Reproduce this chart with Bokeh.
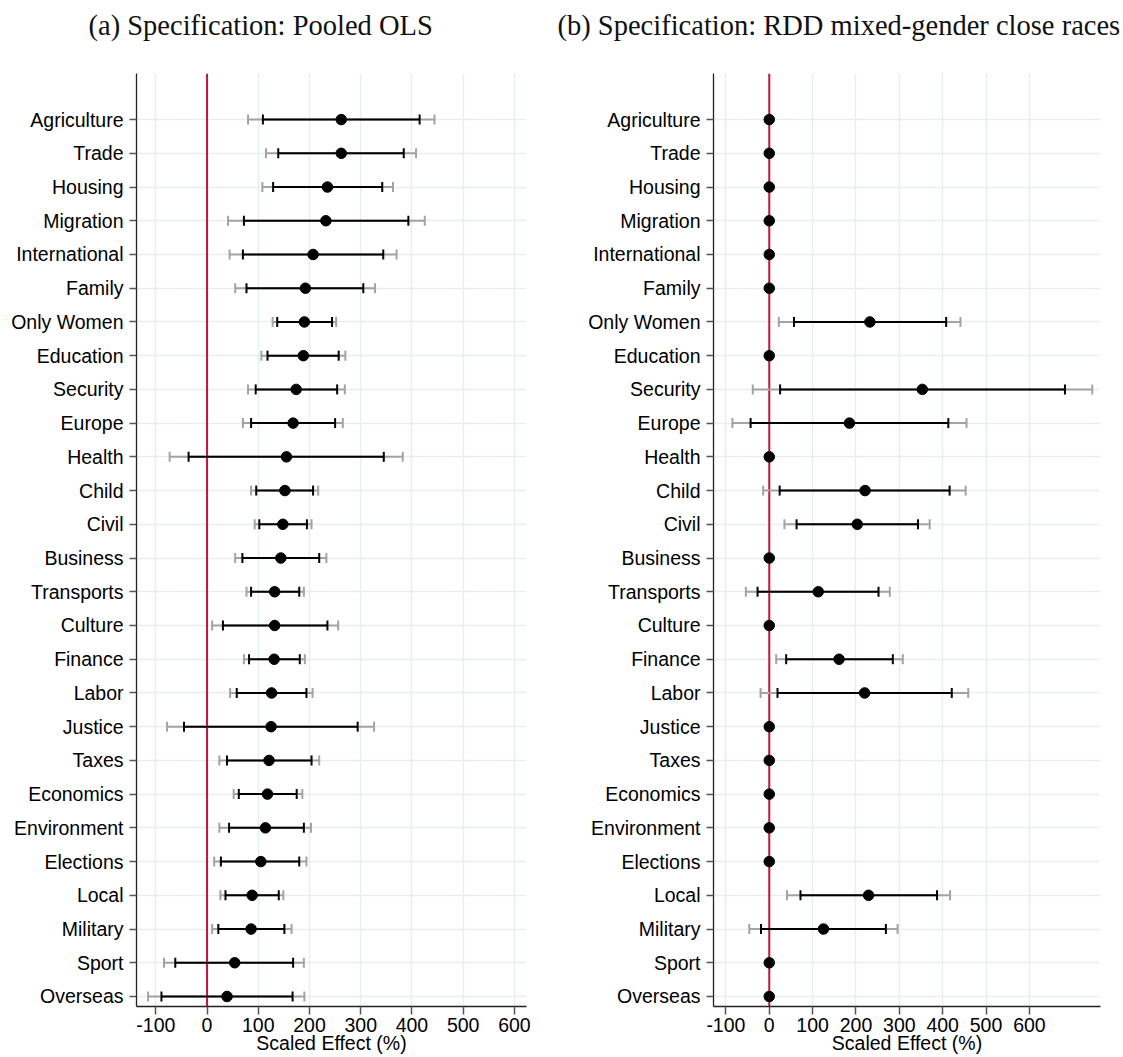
import numpy as np
from bokeh.plotting import figure
from bokeh.layouts import row
from bokeh.models import FixedTicker, ColumnDataSource, Span, Title
from bokeh.embed import file_html
from bokeh.resources import INLINE

# ---------------- data (top to bottom) ----------------
categories = ["Agriculture", "Trade", "Housing", "Migration", "International", "Family",
              "Only Women", "Education", "Security", "Europe", "Health", "Child", "Civil",
              "Business", "Transports", "Culture", "Finance", "Labor", "Justice", "Taxes",
              "Economics", "Environment", "Elections", "Local", "Military", "Sport", "Overseas"]

ols_est  = [262, 262, 235, 232, 207, 192, 190, 188, 174, 168, 155, 152, 148, 144,
            132, 132, 131, 126, 125, 121, 118, 114, 105, 88, 86, 54, 39]
ols_lo90 = [109, 139, 129, 72, 70, 77, 137, 118, 95, 86, -36, 96, 102, 69,
            86, 31, 82, 58, -45, 39, 62, 43, 27, 36, 22, -62, -89]
ols_hi90 = [415, 384, 342, 393, 344, 305, 244, 257, 254, 250, 345, 207, 195, 219,
            180, 235, 181, 194, 294, 204, 175, 189, 180, 140, 151, 168, 167]
ols_lo95 = [80, 115, 108, 41, 44, 55, 128, 106, 80, 70, -73, 86, 93, 55,
            77, 10, 72, 45, -78, 24, 52, 24, 14, 26, 10, -84, -115]
ols_hi95 = [444, 408, 363, 425, 370, 328, 252, 270, 269, 265, 382, 217, 204, 233,
            189, 256, 191, 206, 326, 219, 186, 203, 194, 149, 165, 189, 190]

rdd_est  = [0, 0, 0, 0, 0, 0, 232, 0, 353, 185, 0, 221, 203, 0,
            113, 0, 161, 220, 0, 0, 0, 0, 0, 229, 125, 0, 0]
rdd_lo90 = [None, None, None, None, None, None, 57, None, 25, -43, None, 24, 63, None,
            -27, None, 39, 19, None, None, None, None, None, 72, -19, None, None]
rdd_hi90 = [None, None, None, None, None, None, 408, None, 682, 413, None, 416, 343, None,
            252, None, 285, 421, None, None, None, None, None, 387, 269, None, None]
rdd_lo95 = [None, None, None, None, None, None, 22, None, -38, -85, None, -14, 35, None,
            -54, None, 16, -20, None, None, None, None, None, 41, -46, None, None]
rdd_hi95 = [None, None, None, None, None, None, 441, None, 745, 455, None, 453, 370, None,
            278, None, 308, 459, None, None, None, None, None, 417, 296, None, None]

x_ticks = [-100, 0, 100, 200, 300, 400, 500, 600]
x_tick_labels = ["-100", "0", "100", "200", "300", "400", "500", "600"]

title_a = "(a) Specification: Pooled OLS"
title_b = "(b) Specification: RDD mixed-gender close races"
x_label = "Scaled Effect (%)"

# ---------------- styling ----------------
SANS = "Liberation Sans"
SERIF = "Liberation Serif"
GRID = "#E6EEF1"
RED = "#C8143C"
GRAY = "#A3A3A3"
BLACK = "#000000"
FIG_H = 1057
FS = "19.5px"


def arr(v):
    return np.array([np.nan if x is None else x for x in v], dtype=float)


def panel(title_text, est, lo90, hi90, lo95, hi95, xr, width, bl, br, toff):
    n = len(categories)
    ypos = list(range(n, 0, -1))
    src = ColumnDataSource(dict(y=ypos, est=arr(est), lo90=arr(lo90), hi90=arr(hi90),
                                lo95=arr(lo95), hi95=arr(hi95)))
    p = figure(width=width, height=FIG_H, x_range=xr, y_range=(0.703, 28.366),
               output_backend="svg", toolbar_location=None, title=None,
               min_border_left=bl, min_border_right=br, min_border_top=73,
               min_border_bottom=51)
    p.outline_line_color = None
    p.background_fill_color = "white"
    p.border_fill_color = "white"

    # spacer (closest to frame) then the sub-caption title above it
    p.add_layout(Title(text=" ", text_font_size="14px", standoff=10), "above")
    p.add_layout(Title(text=title_text, align="left", offset=toff, text_font=SERIF,
                       text_font_size="28.5px", text_font_style="normal",
                       text_color="#111111", standoff=10), "above")

    # axes
    p.xaxis.ticker = FixedTicker(ticks=x_ticks)
    p.xaxis.major_label_overrides = {t: s for t, s in zip(x_ticks, x_tick_labels)}
    p.yaxis.ticker = FixedTicker(ticks=ypos)
    p.yaxis.major_label_overrides = {y: c for y, c in zip(ypos, categories)}
    for ax in (p.xaxis[0], p.yaxis[0]):
        ax.axis_line_color = "#222222"
        ax.axis_line_width = 1.3
        ax.major_tick_line_color = "#555555"
        ax.major_tick_line_width = 1.5
        ax.major_tick_in = 0
        ax.minor_tick_line_color = None
        ax.major_label_text_font = SANS
        ax.major_label_text_font_size = FS
        ax.major_label_text_color = "#000000"
    p.yaxis.major_tick_out = 7
    p.xaxis.major_tick_out = 8
    p.yaxis.major_label_standoff = 6
    p.xaxis.major_label_standoff = 3
    p.xaxis.axis_label = x_label
    p.xaxis.axis_label_text_font = SANS
    p.xaxis.axis_label_text_font_size = FS
    p.xaxis.axis_label_text_font_style = "normal"
    p.xaxis.axis_label_text_color = "#000000"
    p.xaxis.axis_label_standoff = -3

    # grid
    p.xgrid.grid_line_color = GRID
    p.ygrid.grid_line_color = GRID
    p.xgrid.grid_line_width = 1.5
    p.ygrid.grid_line_width = 1.5

    # zero line
    p.add_layout(Span(location=0, dimension="height", line_color=RED,
                      line_width=2, level="underlay"))

    # outer (gray) intervals
    p.segment(x0="lo95", x1="hi95", y0="y", y1="y", source=src,
              line_color=GRAY, line_width=2)
    for col in ("lo95", "hi95"):
        p.scatter(x=col, y="y", source=src, marker="dash", angle=np.pi / 2,
                  size=10, line_color=GRAY, line_width=2)
    # inner (black) intervals
    p.segment(x0="lo90", x1="hi90", y0="y", y1="y", source=src,
              line_color=BLACK, line_width=2)
    for col in ("lo90", "hi90"):
        p.scatter(x=col, y="y", source=src, marker="dash", angle=np.pi / 2,
                  size=10, line_color=BLACK, line_width=2)
    # estimates
    p.scatter(x="est", y="y", source=src, size=10.5, fill_color=BLACK,
              line_color=BLACK)
    return p


p1 = panel(title_a, ols_est, ols_lo90, ols_hi90, ols_lo95, ols_hi95,
           (-137.7, 623.6), 553, 136, 27, -48)
p2 = panel(title_b, rdd_est, rdd_lo90, rdd_hi90, rdd_lo95, rdd_hi95,
           (-128.6, 764.0), 570, 160, 23, -156)

layout = row(p1, p2)
open("out.html", "w").write(file_html(layout, INLINE))
